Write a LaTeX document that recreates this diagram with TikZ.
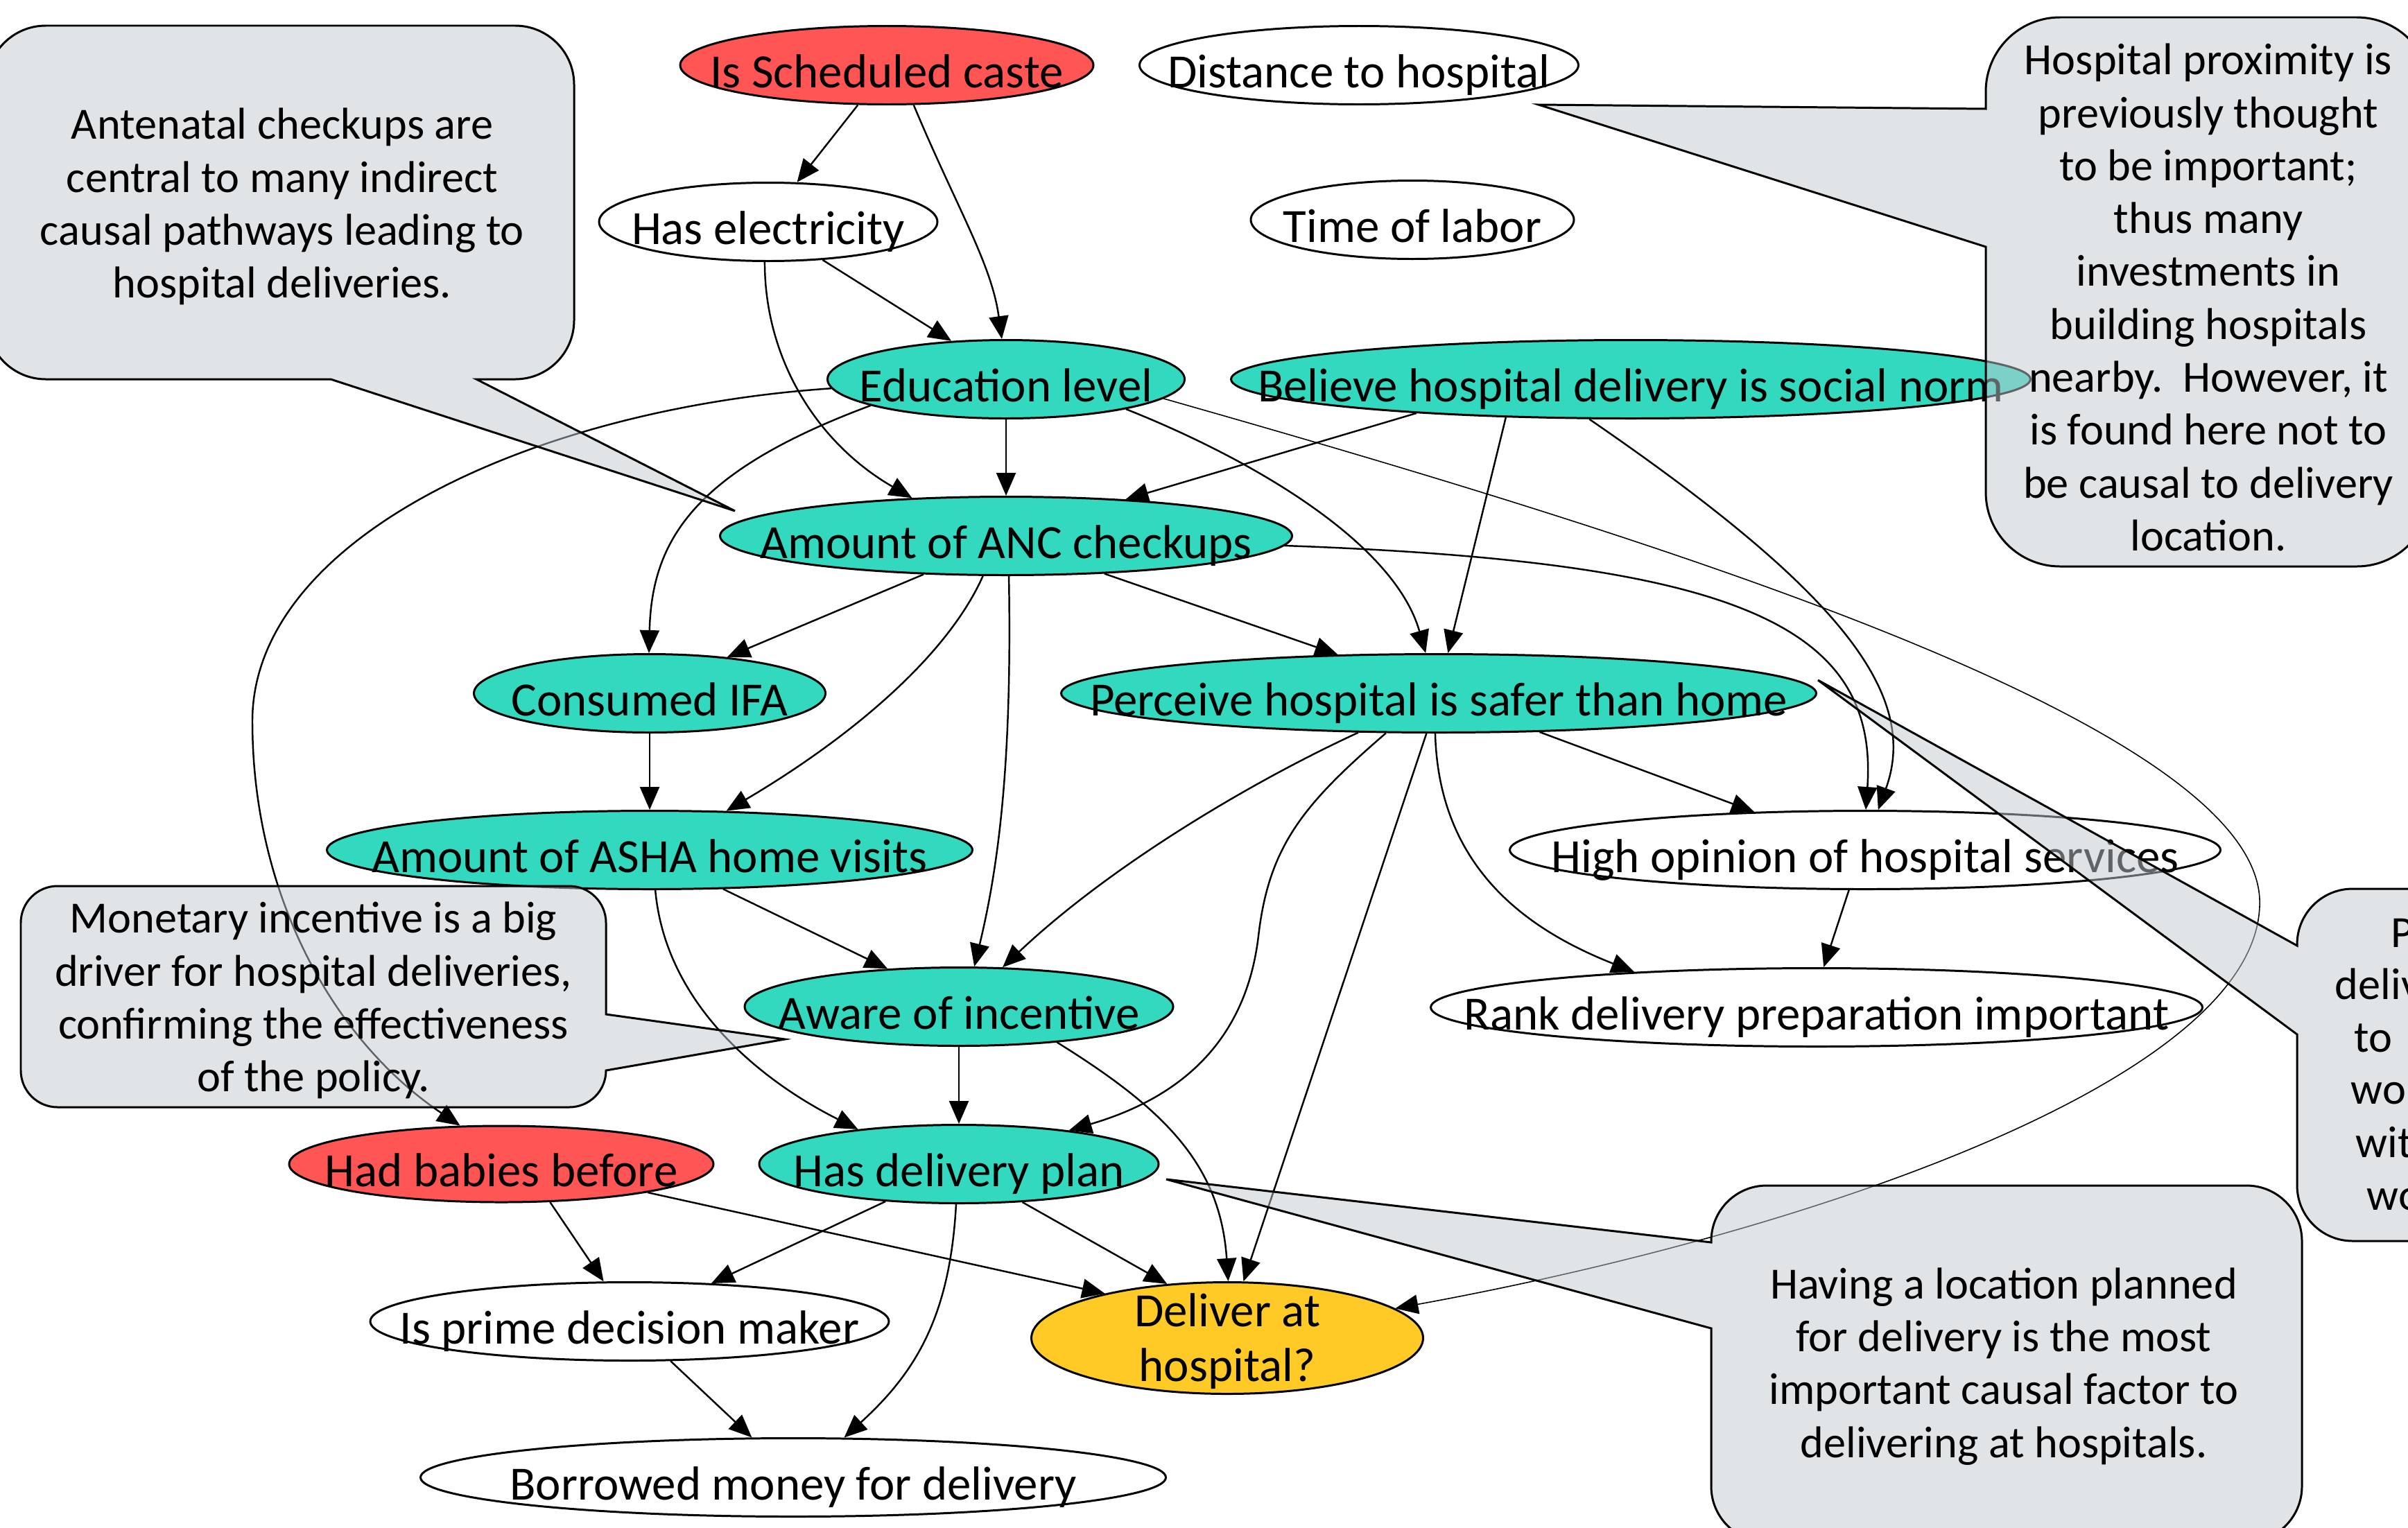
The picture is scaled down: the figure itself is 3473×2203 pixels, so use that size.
\documentclass[tikz,border=0pt]{standalone}
\usepackage{fontspec}
\setmainfont{Carlito}
\usepackage{tikz}
\usetikzlibrary{arrows.meta,shapes.geometric}
\definecolor{dagRed}{RGB}{255,85,85}
\definecolor{dagTeal}{RGB}{51,217,191}
\definecolor{dagGold}{RGB}{255,201,38}
\definecolor{dagNote}{RGB}{195,201,207}
\newcommand{\ztext}[1]{\makebox[0pt]{#1}}
\tikzset{
    base/.style={font=\fontsize{19.6}{21.7}\selectfont},
    factor/.style={base, ellipse, draw, line width=0.85pt, inner sep=0pt,
                   minimum height=11.3mm, text height=18.4pt, text depth=0pt},
    plainvar/.style={factor, fill=white},
    confounder/.style={factor, fill=dagRed},
    mediator/.style={factor, fill=dagTeal},
    outcome/.style={factor, fill=dagGold},
    link/.style={-{Triangle[length=3.3mm,width=2.8mm]}, line width=0.7pt},
    note/.style={fill=dagNote, fill opacity=0.5, draw=black, line width=0.85pt},
    notetext/.style={font=\fontsize{18.3}{21.7}\selectfont, align=center, inner sep=0pt, text=black}
}

\begin{document}
\begin{tikzpicture}[x=0.1mm, y=-0.1mm]
  \useasboundingbox (0,0) rectangle (3473,2203);
  \clip (0,0) rectangle (3473,2203);

  % variables of the causal graph
  \node[confounder, minimum width=59.6mm] (caste) at (1279,94) {\ztext{Is Scheduled caste}};
  \node[plainvar, minimum width=63.3mm] (distance) at (1960,94) {\ztext{Distance to hospital}};
  \node[plainvar, minimum width=48.8mm] (elec) at (1108,320) {\ztext{Has electricity}};
  \node[plainvar, minimum width=46.6mm] (labor) at (2037,317) {\ztext{Time of labor}};
  \node[mediator, minimum width=51.5mm] (edu) at (1451,547) {\ztext{Education level}};
  \node[mediator, minimum width=115.3mm] (norm) at (2352,547) {\ztext{Believe hospital delivery is social norm}};
  \node[mediator, minimum width=82.5mm] (anc) at (1451,773) {\ztext{Amount of ANC checkups}};
  \node[mediator, minimum width=50.7mm] (ifa) at (937,1000) {\ztext{Consumed IFA}};
  \node[mediator, minimum width=108.9mm] (safer) at (2075,1000) {\ztext{Perceive hospital is safer than home}};
  \node[mediator, minimum width=93.1mm] (asha) at (937,1226) {\ztext{Amount of ASHA home visits}};
  \node[plainvar, minimum width=102.5mm] (opinion) at (2690,1226) {\ztext{High opinion of hospital services}};
  \node[plainvar, minimum width=111.3mm] (rank) at (2620,1453) {\ztext{Rank delivery preparation important}};
  \node[mediator, minimum width=61.8mm] (aware) at (1383,1452) {\ztext{Aware of incentive}};
  \node[mediator, minimum width=57.6mm] (plan) at (1383,1679) {\ztext{Has delivery plan}};
  \node[confounder, minimum width=61.2mm, minimum height=11mm] (babies) at (723,1679) {\ztext{Had babies before}};
  \node[plainvar, minimum width=74.8mm] (prime) at (908,1906) {\ztext{Is prime decision maker}};
  \node[outcome, minimum width=56.5mm, minimum height=16.1mm, text height=14.8pt] (hosp) at (1770,1930)
    {\ztext{\begin{tabular}{@{}c@{}}Deliver at\\[0.3mm]hospital?\end{tabular}}};
  \node[plainvar, minimum width=107.5mm] (borrow) at (1144,2131) {\ztext{Borrowed money for delivery}};

  % top of the graph
  \draw[link] (caste.-126) -- (elec.54);
  \draw[link] (caste.-56) .. controls (1380,300) and (1430,380) .. (edu.96);
  \draw[link] (elec.-35) -- (edu.145);
  \draw[link] (elec.-95) .. controls (1103,520) and (1180,640) .. (anc.158);
  \draw[link] (edu.south) -- (anc.north);
  \draw[link] (edu.-169) .. controls (1000,680) and (940,780) .. (ifa.91);
  \draw[link] (edu.-177) .. controls (760,590) and (364,780) .. (364,1040)
    .. controls (364,1290) and (480,1500) .. (babies.137);
  \draw[link] (edu.-14) .. controls (1800,660) and (2010,780) .. (safer.108);
  \draw[link, line width=0.45pt] (edu.-7) .. controls (2400,780) and (3270,1050) .. (3259,1307)
    .. controls (3250,1560) and (2600,1780) .. (hosp.10);
  \draw[link] (norm.-171) -- (anc.17);
  \draw[link] (norm.-163) -- (safer.77);
  \draw[link] (norm.-136) .. controls (2650,850) and (2770,1000) .. (opinion.72);

  % middle
  \draw[link] (anc.-2) .. controls (2500,810) and (2710,900) .. (opinion.89);
  \draw[link] (anc.-155) -- (ifa.25);
  \draw[link] (anc.-21) -- (safer.159);
  \draw[link] (anc.-120) .. controls (1360,960) and (1200,1080) .. (asha.27);
  \draw[link] (anc.-86) .. controls (1460,1100) and (1440,1250) .. (aware.69);
  \draw[link] (ifa.south) -- (asha.north);
  \draw[link] (safer.-154) .. controls (1800,1130) and (1600,1250) .. (aware.42);
  \draw[link] (safer.-143) .. controls (1880,1160) and (1830,1220) .. (1815,1350)
    .. controls (1795,1520) and (1680,1590) .. (plan.17);
  \draw[link] (safer.-107) -- (hosp.74);
  \draw[link] (safer.-21) -- (opinion.161);
  \draw[link] (safer.-95) .. controls (2075,1250) and (2200,1340) .. (rank.169);
  \draw[link] (opinion.-112) -- (rank.80);

  % bottom
  \draw[link] (asha.-28) -- (aware.152);
  \draw[link] (asha.-82) .. controls (960,1450) and (1100,1560) .. (plan.161);
  \draw[link] (aware.south) -- (plan.north);
  \draw[link] (aware.-20) .. controls (1680,1600) and (1760,1680) .. (hosp.89);
  \draw[link] (plan.-153) -- (prime.25);
  \draw[link] (plan.-31) -- (hosp.138);
  \draw[link] (plan.-94) .. controls (1370,1900) and (1320,1980) .. (borrow.38);
  \draw[link] (babies.-38) -- (prime.123);
  \draw[link] (babies.-11) -- (hosp.160);
  \draw[link] (prime.-44) -- (borrow.136);

  % callouts on top
  \coordinate (tipA) at (1060,737);
  \coordinate (tipB) at (2219,151);
  \coordinate (tipC) at (2622,981);
  \coordinate (tipD) at (1132,1499);
  \coordinate (tipE) at (1682,1701);
  \draw[note] (-19,122) arc[start angle=180,end angle=270,radius=85] -- (743,37)
    arc[start angle=270,end angle=360,radius=85] -- (828,462)
    arc[start angle=0,end angle=90,radius=85] -- (687,547) -- (tipA) -- (477,547) -- (66,547)
    arc[start angle=90,end angle=180,radius=85] -- cycle;
  \draw[note] (2864,132) arc[start angle=180,end angle=270,radius=107] -- (3399,25)
    arc[start angle=270,end angle=360,radius=107] -- (3506,710)
    arc[start angle=0,end angle=90,radius=107] -- (2971,817)
    arc[start angle=90,end angle=180,radius=107] -- (2864,356) -- (tipB) -- (2864,157) -- cycle;
  \draw[note] (3313,1362) arc[start angle=180,end angle=270,radius=80] -- (3920,1282)
    arc[start angle=270,end angle=360,radius=80] -- (4000,1710)
    arc[start angle=0,end angle=90,radius=80] -- (3393,1790)
    arc[start angle=90,end angle=180,radius=80] -- (3313,1492) -- (tipC) -- (3313,1364) -- cycle;
  \draw[note] (30,1331) arc[start angle=180,end angle=270,radius=53] -- (821,1278)
    arc[start angle=270,end angle=360,radius=53] -- (874,1463) -- (tipD) -- (874,1544)
    arc[start angle=0,end angle=90,radius=53] -- (83,1597)
    arc[start angle=90,end angle=180,radius=53] -- cycle;
  \draw[note] (2468,1790) arc[start angle=180,end angle=270,radius=80] -- (3240,1710)
    arc[start angle=270,end angle=360,radius=80] -- (3320,2144)
    arc[start angle=0,end angle=90,radius=80] -- (2548,2224)
    arc[start angle=90,end angle=180,radius=80] -- (2468,1916) -- (tipE) -- (2468,1792) -- cycle;

  \node[notetext] (antenatalNote) at (407,298)
    {Antenatal checkups are\\central to many indirect\\causal pathways leading to\\hospital deliveries.};
  \node[notetext] (proximityNote) at (3185,429)
    {Hospital proximity is\\previously thought\\to be important;\\thus many\\investments in\\building hospitals\\nearby.\ \ However, it\\is found here not to\\be causal to delivery\\location.};
  \node[notetext] (incentiveNote) at (452,1443)
    {Monetary incentive is a big\\driver for hospital deliveries,\\confirming the effectiveness\\of the policy.};
  \node[notetext] (planNote) at (2890,1971)
    {Having a location planned\\for delivery is the most\\important causal factor to\\delivering at hospitals.};
  \foreach \frag/\fx/\fy [count=\i] in {P/3448/1366, deliv/3367/1441, to/3395/1517,
      wou/3390/1592, wit/3397/1669, wo/3413/1745}
    \node[notetext, anchor=base west] (perceiveNote\i) at (\fx,\fy) {\frag};
\end{tikzpicture}
\end{document}
